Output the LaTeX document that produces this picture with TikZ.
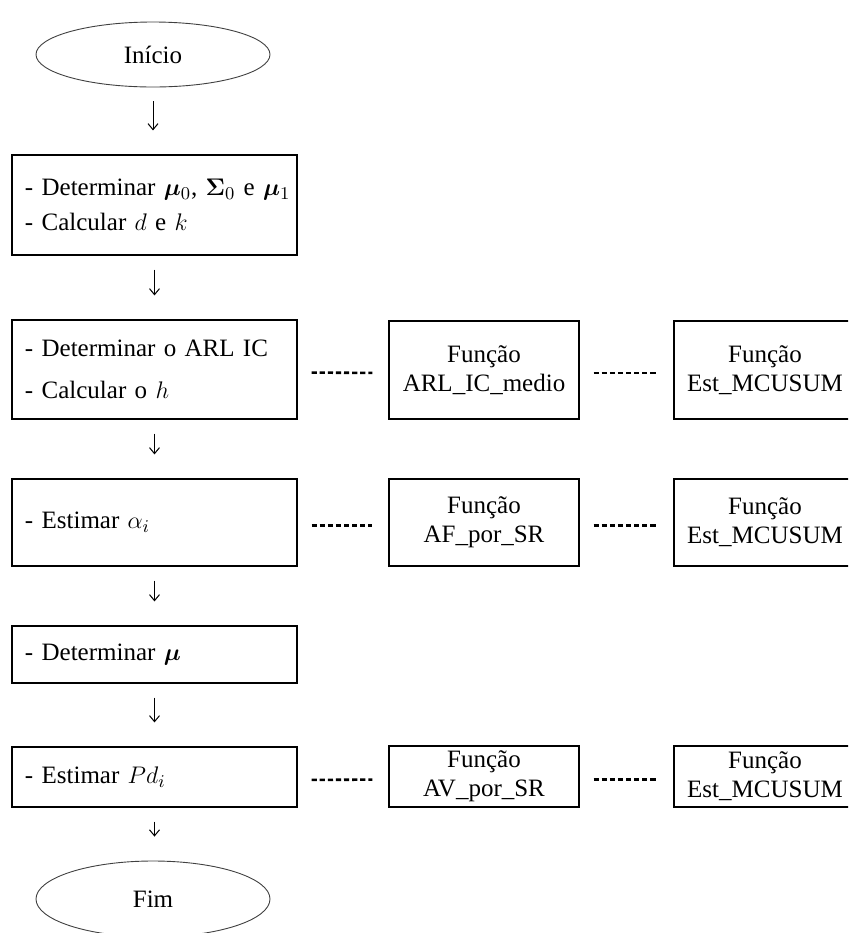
\documentclass[tikz,border=0pt]{standalone}
\usepackage{amsmath}
\usepackage{bm}
\usepackage{fontspec}
\setmainfont{Liberation Serif}
\usepackage{tikz}
\usetikzlibrary{arrows.meta,shapes.geometric}
\tikzset{
  task/.style ={draw, rectangle, line width=0.6pt, align=left, text width=129.5pt, inner xsep=6.5pt, inner ysep=0pt},
  fn/.style   ={draw, rectangle, line width=0.6pt, align=center, inner sep=0pt},
  term/.style ={draw=black!75, ellipse, line width=0.45pt, inner sep=0pt, minimum width=117pt},
  flow/.style ={-{Straight Barb[length=3pt,width=5pt]}, line width=0.5pt, shorten <=7pt, shorten >=12pt},
  dots/.style ={line width=1.3pt, dash pattern=on 2.6pt off 1.45pt, shorten <=7pt, shorten >=8pt},
}

\begin{document}
\begin{tikzpicture}[x=0.5pt, y=-0.5pt, font=\fontsize{12.5}{15}\selectfont]
  \useasboundingbox (0,0) rectangle (848,933);
  \clip (0,0) rectangle (848,933);

  \node[term, minimum height=32.5pt] (ini) at (153,54.5) {Início};
  \node[task, minimum height=50pt] (s1) at (154.5,205)
    {\mbox{- Determinar $\bm{\mu}_0$, $\bm{\Sigma}_0$ e $\bm{\mu}_1$}\\[2.5pt]- Calcular $d$ e $k$};
  \node[task, minimum height=49.5pt] (s2) at (154.5,369.5)
    {- Determinar o ARL IC\\[6pt]- Calcular o $h$};
  \node[task, minimum height=43.5pt] (s3) at (154.5,522.5) {- Estimar $\alpha_i$};
  \node[task, minimum height=28.5pt] (s4) at (154.5,654.5) {- Determinar $\bm{\mu}$};
  \node[task, minimum height=30pt] (s5) at (154.5,777) {- Estimar $Pd_i$};
  \node[term, minimum height=38pt] (fim) at (153,899) {Fim};

  \node[fn, minimum width=95pt, minimum height=49pt] (f2) at (484,370) {Função\\[-0.5pt]ARL\_IC\_medio};
  \node[fn, minimum width=91pt, minimum height=49pt] (e2) at (765,370) {Função\\[-0.5pt]Est\_MCUSUM};
  \node[fn, minimum width=95pt, minimum height=43.5pt] (f3) at (484,522.5) {Função\\[-0.5pt]AF\_por\_SR};
  \node[fn, minimum width=91pt, minimum height=43.5pt] (e3) at (765,522.5) {Função\\[-0.5pt]Est\_MCUSUM};
  \node[fn, minimum width=95pt, minimum height=30.5pt] (f5) at (484,776.5) {Função\\[-0.5pt]AV\_por\_SR};
  \node[fn, minimum width=91pt, minimum height=30.5pt] (e5) at (765,776.5) {Função\\[-0.5pt]Est\_MCUSUM};

  \foreach \a/\b in {ini/s1, s1/s2, s2/s3, s3/s4, s4/s5, s5/fim}
    \draw[flow] (\a.south) -- (\a.south |- \b.north);
  \foreach \a/\b in {s2/f2, f2/e2, s3/f3, f3/e3, s5/f5, f5/e5}
    \draw[dots] ([yshift=-1.5pt]\a.east) -- ([yshift=-1.5pt]\b.west);
\end{tikzpicture}
\end{document}
